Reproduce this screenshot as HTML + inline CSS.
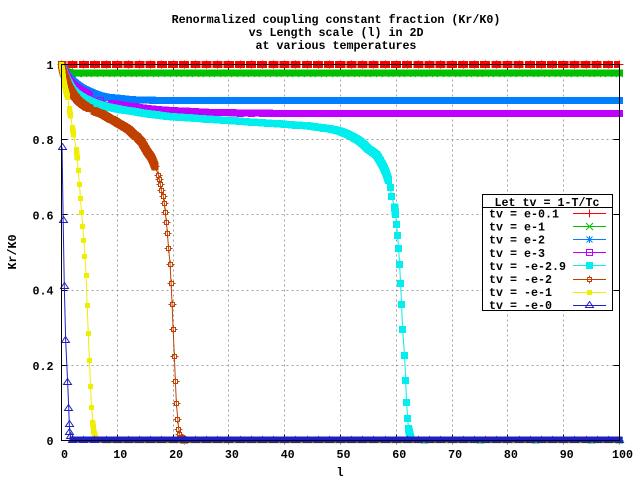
<!DOCTYPE html>
<html>
<head>
<meta charset="utf-8">
<title>Renormalized coupling constant fraction</title>
<style>
html,body{margin:0;padding:0;background:#fff;}
svg{display:block;}
text{font-family:"Liberation Mono",monospace;font-weight:bold;font-size:11.67px;fill:#000;}
</style>
</head>
<body>
<svg id="chart" width="640" height="480" viewBox="0 0 640 480" xmlns="http://www.w3.org/2000/svg">
<rect x="0" y="0" width="640" height="480" fill="#fff"/>
<g text-anchor="middle">
<text x="336" y="23">Renormalized coupling constant fraction (Kr/K0)</text>
<text x="336" y="36">vs Length scale (l) in 2D</text>
<text x="336" y="49">at various temperatures</text>
</g>
<text x="340" y="476" text-anchor="middle">l</text>
<text x="16" y="252" text-anchor="middle" transform="rotate(-90 16 252)">Kr/K0</text>
<g id="grid"></g>
<g id="series"></g>
<g id="axes"></g>
<g id="legend"></g>
</svg>
<script>
const xTicks = [0,10,20,30,40,50,60,70,80,90,100];
const yTicks = [0,0.2,0.4,0.6,0.8,1];
const legendTitle = "Let tv = 1-T/Tc";
const seriesLabels = ["tv = e-0.1","tv = e-1","tv = e-2","tv = e-3","tv = -e-2.9","tv = -e-2","tv = -e-1","tv = -e-0"];

const coarseL = [22,24,26,28,30,32,34,36,38,40,42,44,46,48,50,52,54,56,58,60,62,64,66,68,70,72,74,76,78,80,82,84,86,88,90,92,94,96,98,100];

const redL = [0,2,4,6,8,10,12,14,16,18,20];
const redK = [1,1,1,1,1,1,1,1,1,1,1,1,1,1,1,1,1,1,1,1,1,1,1,1,1,1,1,1,1,1,1,1,1,1,1,1,1,1,1,1,1,1,1,1,1,1,1,1,1,1,1];

const greenL = [0,0.2,0.4,0.6,0.8,1,1.5,2,3,4,6,8,10,12,14,16,18,20];
const greenK = [1,0.995,0.99,0.985,0.981,0.979,0.978,0.977,0.977,0.977,0.977,0.977,0.977,0.977,0.977,0.977,0.977,0.977,0.977,0.977,0.977,0.977,0.977,0.977,0.977,0.977,0.977,0.977,0.977,0.977,0.977,0.977,0.977,0.977,0.977,0.977,0.977,0.977,0.977,0.977,0.977,0.977,0.977,0.977,0.977,0.977,0.977,0.977,0.977,0.977,0.977,0.977,0.977,0.977,0.977,0.977,0.977,0.977];

const blueL = [0,0.5,1,1.5,2,3,4,5,6,7,8,10,12,14,16,18,20];
const blueK = [1,0.985,0.97,0.962,0.955,0.943,0.934,0.927,0.921,0.916,0.913,0.91,0.907,0.905,0.905,0.904,0.904,0.904,0.904,0.904,0.904,0.904,0.904,0.904,0.904,0.904,0.904,0.904,0.904,0.904,0.904,0.904,0.904,0.904,0.904,0.904,0.904,0.904,0.904,0.904,0.904,0.904,0.904,0.904,0.904,0.904,0.904,0.904,0.904,0.904,0.904,0.904,0.904,0.904,0.904,0.904,0.904];

const magentaL = [0,0.5,1,2,3,4,5,7,9,11,13,15,17,19,20];
const magentaK = [1,0.985,0.965,0.945,0.935,0.926,0.918,0.905,0.896,0.891,0.887,0.883,0.88,0.878,0.877,0.876,0.874,0.873,0.872,0.872,0.871,0.871,0.871,0.87,0.87,0.87,0.87,0.87,0.87,0.87,0.87,0.87,0.87,0.87,0.87,0.87,0.87,0.87,0.87,0.87,0.87,0.87,0.87,0.87,0.87,0.87,0.87,0.87,0.87,0.87,0.87,0.87,0.87,0.87,0.87];

const cyanL = [0,0.2,0.4,0.6,0.8,1,1.3,1.6,2,2.5,3,3.5,4,5,6,7,8,9,10,11,12,13,14,15,16,17,18,19,20,21,22,23,24,25,26,27,28,29,30,31,32,33,34,35,36,37,38,39,40,41,42,43,44,45,46,47,48,49,50,51,52,52.7,53.5,54.3,55,55.8,56.5,57.1,57.7,58.2,58.6,58.9,59.2,59.7,59.87,60.05,60.23,60.41,60.59,60.77,60.95,61.13,61.49,61.67,61.85,62.03,62.2,62.38,62.6,65,75,85,95,100];
const cyanK = [1,0.99,0.98,0.972,0.965,0.958,0.95,0.942,0.933,0.925,0.919,0.914,0.91,0.903,0.897,0.892,0.888,0.885,0.882,0.879,0.877,0.875,0.872,0.87,0.868,0.866,0.864,0.862,0.861,0.86,0.859,0.858,0.857,0.856,0.855,0.854,0.853,0.852,0.851,0.85,0.849,0.848,0.847,0.846,0.845,0.844,0.843,0.842,0.841,0.84,0.839,0.838,0.837,0.835,0.833,0.831,0.829,0.826,0.822,0.816,0.809,0.803,0.796,0.785,0.775,0.767,0.759,0.744,0.728,0.71,0.692,0.672,0.648,0.621,0.601,0.574,0.545,0.51,0.468,0.417,0.361,0.295,0.226,0.159,0.1,0.058,0.031,0.018,0.005,0,0,0,0,0];

const orangeL = [0,0.15,0.3,0.5,0.75,1,1.2,1.5,1.8,2.1,2.4,2.9,3.4,3.9,4.5,5.1,5.8,6.4,7,7.6,8.2,8.8,9.3,9.9,10.5,11.1,11.7,12.2,12.5,12.8,13.2,13.5,14,14.4,14.7,15,15.3,15.6,16,16.2,16.4,16.6,16.8,17.36,17.54,17.72,17.9,18.26,18.44,18.62,18.8,18.98,19.19,19.46,19.64,19.82,20,20.23,20.41,20.59,20.84,21.02,21.2,21.43,22,30,40,50,60,70,80,90,100];
const orangeK = [1,0.99,0.98,0.972,0.963,0.953,0.945,0.936,0.928,0.921,0.914,0.906,0.899,0.893,0.887,0.883,0.877,0.873,0.87,0.866,0.86,0.855,0.852,0.846,0.841,0.836,0.83,0.825,0.821,0.816,0.811,0.808,0.8,0.793,0.785,0.777,0.77,0.763,0.755,0.75,0.743,0.735,0.728,0.706,0.694,0.682,0.665,0.649,0.63,0.606,0.58,0.55,0.511,0.469,0.418,0.362,0.296,0.224,0.157,0.099,0.056,0.029,0.016,0.005,0,0,0,0,0,0,0,0,0];

const yellowL = [0,0.2,0.4,0.6,0.8,1.11,1.4,1.65,1.94,2.19,2.65,2.83,3,3.2,3.4,3.6,3.8,4,4.2,4.4,4.6,4.8,5,5.2,5.4,5.6,5.8,6,6.2,8,10,12,14,16,18,20,22,24,26,28,30,32,34,36,38,40,42,44,46,48,50,52,54,56,58,60,62,64,66,68,70,72,74,76,78,80,82,84,86,88,90,92,94,96,98,100];
const yellowK = [1,0.985,0.96,0.943,0.93,0.914,0.883,0.864,0.833,0.814,0.774,0.753,0.719,0.682,0.644,0.607,0.57,0.532,0.49,0.439,0.36,0.285,0.213,0.144,0.088,0.048,0.024,0.013,0.004,0,0,0,0,0,0,0,0,0,0,0,0,0,0,0,0,0,0,0,0,0,0,0,0,0,0,0,0,0,0,0,0,0,0,0,0,0,0,0,0,0,0,0,0,0,0,0];

const navyL = [0.1,0.3,0.5,0.75,1.1,1.3,1.4,1.5,1.65,2,4,6,8,10,12,14,16,18,20];
const navyK = [0.78,0.585,0.41,0.265,0.155,0.085,0.042,0.02,0.01,0,0,0,0,0,0,0,0,0,0,0,0,0,0,0,0,0,0,0,0,0,0,0,0,0,0,0,0,0,0,0,0,0,0,0,0,0,0,0,0,0,0,0,0,0,0,0,0,0,0];

const seriesData = [
  {id:"red", l:redL.concat(coarseL), k:redK, color:"#ff0000", marker:"plus", band:7, gap:11.5, offset:0, dash:"5 1.1 5.05 0"},
  {id:"green", l:greenL.concat(coarseL), k:greenK, color:"#00c000", marker:"cross", band:7, gap:11.5, offset:0},
  {id:"blue", l:blueL.concat(coarseL), k:blueK, color:"#0080ff", marker:"star", band:7, gap:11.5, offset:0},
  {id:"magenta", l:magentaL.concat(coarseL), k:magentaK, color:"#c000ff", marker:"hollow", band:7, gap:11.5, offset:0},
  {id:"cyan", l:cyanL, k:cyanK, color:"#00eeee", marker:"filled7", band:7, gap:7.6, offset:0},
  {id:"orange", l:orangeL, k:orangeK, color:"#c04000", marker:"smallbox", band:7, gap:4.3, offset:0},
  {id:"yellow", l:yellowL, k:yellowK, color:"#eeee00", marker:"filled5", band:5, gap:11.5, offset:0.5},
  {id:"navy", l:navyL.concat(coarseL), k:navyK, color:"#2020c0", marker:"triangle", band:6, gap:11.5, offset:-1, maxDrop:3}
];

const NS = "http://www.w3.org/2000/svg";
const plotLeft = 61.5, plotRight = 619.5, plotTop = 64.5, plotBottom = 440.5;
function xPos(l){ return plotLeft + (l - 0) / 100 * (plotRight - plotLeft); }
function yPos(k){ return plotBottom - (k - 0) / 1 * (plotBottom - plotTop); }
function snap(v){ return Math.round(v - 0.5) + 0.5; }
function make(tag, attrs, parent){
  const el = document.createElementNS(NS, tag);
  for (const key in attrs) el.setAttribute(key, attrs[key]);
  parent.appendChild(el);
  return el;
}
function sweptSquare(a, b, h){
  const x1 = a[0], y1 = a[1], x2 = b[0], y2 = b[1];
  const p = y2 >= y1
    ? [[x1-h,y1-h],[x1+h,y1-h],[x2+h,y2-h],[x2+h,y2+h],[x2-h,y2+h],[x1-h,y1+h]]
    : [[x1-h,y1-h],[x2-h,y2-h],[x2+h,y2-h],[x2+h,y2+h],[x1+h,y1+h],[x1-h,y1+h]];
  return "M" + p.map(function(q){ return q[0].toFixed(1) + " " + q[1].toFixed(1); }).join("L") + "Z";
}

const gridG = document.getElementById("grid");
const axesG = document.getElementById("axes");
const seriesG = document.getElementById("series");
const legendG = document.getElementById("legend");

xTicks.forEach(function(t){
  const x = snap(xPos(t));
  if (t > 0 && t < 100) {
    const g = make("line", {x1:x, x2:x, y1:plotTop + 5, y2:plotBottom - 5, stroke:"#a0a0a0", "stroke-dasharray":"2 3", "shape-rendering":"crispEdges"}, gridG);
    
    
  }
  const a = make("line", {x1:x, x2:x, y1:plotBottom, y2:plotBottom - 6, stroke:"#000", "shape-rendering":"crispEdges"}, gridG);
  
  
  const b = make("line", {x1:x, x2:x, y1:plotTop, y2:plotTop + 6, stroke:"#000", "shape-rendering":"crispEdges"}, gridG);
  
  
  const label = make("text", {x:xPos(t) + 3, y:458, "text-anchor":"middle"}, axesG);
  label.textContent = String(t);
  
  
});

yTicks.forEach(function(t){
  const y = snap(yPos(t));
  if (t > 0 && t < 1) {
    const g = make("line", {x1:plotLeft + 5, x2:plotRight - 5, y1:y, y2:y, stroke:"#a0a0a0", "stroke-dasharray":"2 3", "shape-rendering":"crispEdges"}, gridG);
    
    
  }
  const a = make("line", {x1:plotLeft, x2:plotLeft + 6, y1:y, y2:y, stroke:"#000", "shape-rendering":"crispEdges"}, gridG);
  
  
  const b = make("line", {x1:plotRight - 6, x2:plotRight, y1:y, y2:y, stroke:"#000", "shape-rendering":"crispEdges"}, gridG);
  
  
  const label = make("text", {x:53.5, y:yPos(t) + 4.5, "text-anchor":"end"}, axesG);
  label.textContent = String(t);
  
  
});

const frame = make("rect", {x:plotLeft, y:plotTop, width:plotRight - plotLeft, height:plotBottom - plotTop, fill:"none", stroke:"#000", "shape-rendering":"crispEdges"}, axesG);



function drawMarker(parent, type, x, y, color){
  const cx = snap(x), cy = snap(y);
  const common = {stroke:color, fill:"none", "shape-rendering":"crispEdges"};
  let el;
  if (type === "plus") {
    el = make("path", Object.assign({d:"M"+(cx-4)+" "+cy+"H"+(cx+4)+"M"+cx+" "+(cy-4)+"V"+(cy+4)}, common), parent);
  } else if (type === "cross") {
    el = make("path", {d:"M"+(cx-3.5)+" "+(cy-3.5)+"L"+(cx+3.5)+" "+(cy+3.5)+"M"+(cx-3.5)+" "+(cy+3.5)+"L"+(cx+3.5)+" "+(cy-3.5), stroke:color, fill:"none"}, parent);
  } else if (type === "star") {
    el = make("path", {d:"M"+(cx-3.5)+" "+cy+"H"+(cx+3.5)+"M"+cx+" "+(cy-3.5)+"V"+(cy+3.5)+"M"+(cx-3)+" "+(cy-3)+"L"+(cx+3)+" "+(cy+3)+"M"+(cx-3)+" "+(cy+3)+"L"+(cx+3)+" "+(cy-3), stroke:color, fill:"none"}, parent);
  } else if (type === "hollow") {
    el = make("rect", Object.assign({x:cx-3, y:cy-3, width:6, height:6}, common), parent);
  } else if (type === "filled7") {
    el = make("rect", {x:cx-3.5, y:cy-3.5, width:7, height:7, fill:color, "shape-rendering":"crispEdges"}, parent);
  } else if (type === "filled5") {
    el = make("rect", {x:cx-2.5, y:cy-2.5, width:5, height:5, fill:color, "shape-rendering":"crispEdges"}, parent);
  } else if (type === "smallbox") {
    el = make("path", Object.assign({d:"M"+(cx-2)+" "+(cy-2)+"H"+(cx+2)+"V"+(cy+2)+"H"+(cx-2)+"ZM"+(cx-4)+" "+cy+"H"+(cx-2)+"M"+(cx+2)+" "+cy+"H"+(cx+4)+"M"+cx+" "+(cy-4)+"V"+(cy-2)+"M"+cx+" "+(cy+2)+"V"+(cy+4)}, common), parent);
  } else {
    el = make("path", {d:"M"+cx+" "+(cy-4)+"L"+(cx+4)+" "+(cy+2)+"H"+(cx-4)+"Z", stroke:color, fill:"none"}, parent);
  }
  return el;
}

seriesData.forEach(function(s){
  const group = make("g", {}, seriesG);
  
  
  const n = Math.min(s.l.length, s.k.length);
  const pts = [];
  for (let i = 0; i < n; i++) pts.push([xPos(s.l[i]), yPos(s.k[i]) + s.offset]);

  const trace = [];
  for (let i = 0; i < n; i++) trace.push([xPos(s.l[i]), yPos(s.k[i])]);

  let swept = "";
  let stroked = "";
  for (let i = 1; i < n; i++) {
    const dist = Math.hypot(pts[i][0] - pts[i-1][0], pts[i][1] - pts[i-1][1]);
    const drop = Math.abs(pts[i][1] - pts[i-1][1]);
    if (dist < s.gap && (s.maxDrop === undefined || drop < s.maxDrop)) {
      swept += sweptSquare(pts[i-1], pts[i], s.band / 2);
      stroked += (stroked ? "" : "M" + pts[i-1][0].toFixed(2) + " " + pts[i-1][1].toFixed(2)) + "L" + pts[i][0].toFixed(2) + " " + pts[i][1].toFixed(2);
    }
  }
  let band;
  if (s.dash) {
    band = make("path", {d:stroked, fill:"none", stroke:s.color, "stroke-width":s.band, "stroke-dasharray":s.dash, "shape-rendering":"crispEdges"}, group);
  } else {
    band = make("path", {d:swept, fill:s.color, "shape-rendering":"crispEdges"}, group);
  }
  
  

  const line = make("polyline", {points:trace.map(function(p){return p[0].toFixed(2)+","+p[1].toFixed(2);}).join(" "), fill:"none", stroke:s.color}, group);
  
  

  trace.forEach(function(p){
    const m = drawMarker(group, s.marker, p[0], p[1], s.color);
    
    
  });
});

const legendLeft = 482.5, legendRight = 612.5, legendTop = 194.5, legendHead = 207.5, legendBottom = 310.5;
const box = make("rect", {x:legendLeft, y:legendTop, width:legendRight - legendLeft, height:legendBottom - legendTop, fill:"#fff", stroke:"#000", "shape-rendering":"crispEdges"}, legendG);


const rule = make("line", {x1:legendLeft, x2:legendRight, y1:legendHead, y2:legendHead, stroke:"#000", "shape-rendering":"crispEdges"}, legendG);


const head = make("text", {x:547, y:206, "text-anchor":"middle"}, legendG);
head.textContent = legendTitle;



seriesLabels.forEach(function(label, i){
  const rowY = 213.5 + i * 13.1;
  const row = make("g", {}, legendG);
  
  
  const t = make("text", {x:489, y:rowY + 4}, row);
  t.textContent = label;
  
  
  const s = seriesData[i];
  const sample = make("line", {x1:573, x2:606, y1:snap(rowY), y2:snap(rowY), stroke:s.color, "shape-rendering":"crispEdges"}, row);
  
  
  const mk = drawMarker(row, s.marker, 589.5, rowY, s.color);
  
  
});
</script>
</body>
</html>
